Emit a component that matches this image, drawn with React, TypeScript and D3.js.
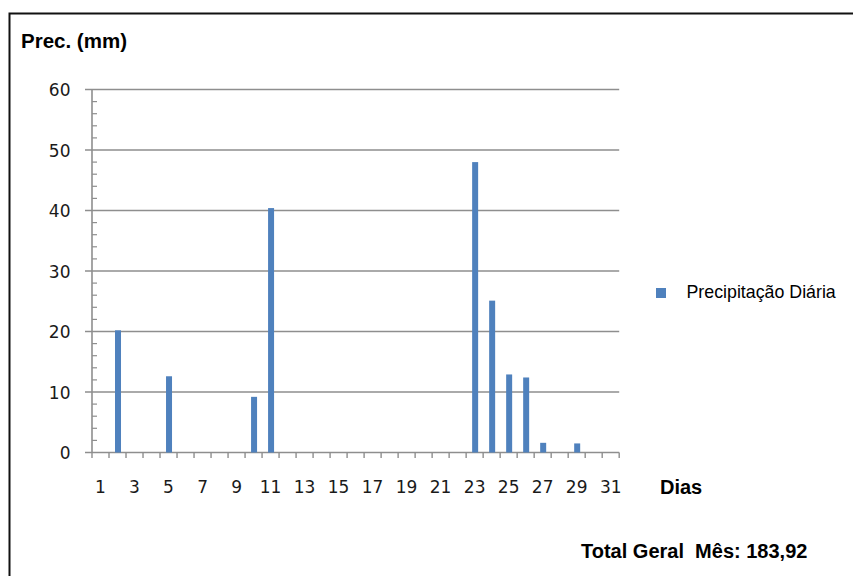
import React from "react";
import * as d3 from "d3";

const days: number[] = Array.from({ length: 31 }, (_, i) => i + 1);
const rainDays: number[] = [2, 5, 10, 11, 23, 24, 25, 26, 27, 29];
const rainValues: number[] = [20.2, 12.6, 9.2, 40.4, 48.0, 25.1, 12.9, 12.4, 1.6, 1.5];
const yTicks: number[] = [0, 10, 20, 30, 40, 50, 60];
const yMinorTicks: number[] = d3.range(0, 61, 2);
const xTickLabels: number[] = [1, 3, 5, 7, 9, 11, 13, 15, 17, 19, 21, 23, 25, 27, 29, 31];
const yTitle = "Prec. (mm)";
const xTitle = "Dias";
const legendLabel = "Precipitação Diária";
const totalLabel = "Total Geral  Mês: 183,92";

export default function App() {
  const W = 853, H = 576;
  const x0 = 92, x1 = 619.2, yTop = 89.5, yBot = 452.5;
  const x = d3.scaleBand<number>().domain(days).range([x0, x1]).paddingInner(0).paddingOuter(0);
  const y = d3.scaleLinear().domain([0, 60]).range([yBot, yTop]);
  const bw = 6;
  const barColor = "#4f81bd";
  const grid = "#8e8e8e";
  const tickFont = "'DejaVu Sans', Verdana, sans-serif";
  const boldFont = "'Liberation Sans', Arial, sans-serif";
  const boundaries = d3.range(0, 32).map((i) => x0 + i * x.bandwidth());

  return (
    <svg width={W} height={H} style={{ position: "absolute", left: 0, top: 0, background: "#fff" }}>
      <rect x={0} y={0} width={W} height={H} fill="#fff" />
      <rect x={9.5} y={13.5} width={900} height={700} fill="none" stroke="#111" strokeWidth={2} />
      {/* gridlines */}
      {yTicks.map((t) => (
        <line key={"g" + t} x1={85} x2={x1} y1={y(t)} y2={y(t)} stroke={grid} strokeWidth={1.6} />
      ))}
      {/* y axis */}
      <line x1={x0} x2={x0} y1={yTop} y2={yBot} stroke={grid} strokeWidth={1.6} />
      {yMinorTicks.filter((t) => t % 10 !== 0).map((t) => (
        <line key={"m" + t} x1={x0} x2={x0 + 5} y1={y(t)} y2={y(t)} stroke={grid} strokeWidth={1.2} />
      ))}
      {/* x ticks */}
      {boundaries.map((b, i) => (
        <line key={"xt" + i} x1={b} x2={b} y1={yBot} y2={yBot + 5.5} stroke={grid} strokeWidth={1.4} />
      ))}
      {/* bars */}
      {rainDays.map((d, i) => (
        <rect
          key={"b" + d}
          x={(x(d) as number) + x.bandwidth() / 2 - bw / 2 + 0.5}
          y={y(rainValues[i])}
          width={bw}
          height={yBot - y(rainValues[i])}
          fill={barColor}
        />
      ))}
      {/* y labels */}
      {yTicks.map((t) => (
        <text key={"yl" + t} x={70.5} y={y(t) + 6.5} textAnchor="end" fontFamily={tickFont} fontSize={17} fill="#1a1a1a">
          {t}
        </text>
      ))}
      {/* x labels */}
      {xTickLabels.map((d) => (
        <text key={"xl" + d} x={(x(d) as number) + x.bandwidth() / 2} y={493} textAnchor="middle" fontFamily={tickFont} fontSize={17} fill="#1a1a1a">
          {d}
        </text>
      ))}
      <text x={21} y={48.3} fontFamily={boldFont} fontWeight="bold" fontSize={20.5} fill="#000">{yTitle}</text>
      <text x={660} y={494} fontFamily={boldFont} fontWeight="bold" fontSize={20} fill="#000">{xTitle}</text>
      <text x={581} y={558.3} fontFamily={boldFont} fontWeight="bold" fontSize={20} fill="#000" style={{ whiteSpace: "pre" }}>{totalLabel}</text>
      <rect x={656} y={288} width={10} height={10} fill={barColor} />
      <text x={686.5} y={298.3} fontFamily={boldFont} fontSize={17.8} fill="#000">{legendLabel}</text>
    </svg>
  );
}
